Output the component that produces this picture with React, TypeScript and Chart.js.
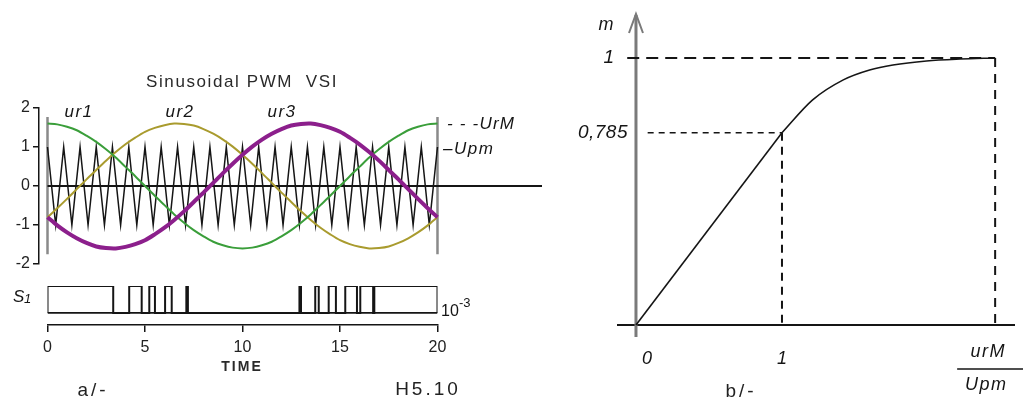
import React, { useEffect, useRef } from "react";
import { Chart, registerables } from "chart.js";
Chart.register(...registerables);

const W = 1023;
const H = 405;
const FONT = "'Liberation Sans', Arial, sans-serif";

// ---------- Panel a/- : reference sinusoids and carrier (time in ms) ----------
const TIME_MS = [0, 0.5, 1, 1.5, 2, 2.5, 3, 3.5, 4, 4.5, 5, 5.5, 6, 6.5, 7, 7.5, 8, 8.5, 9, 9.5, 10,
  10.5, 11, 11.5, 12, 12.5, 13, 13.5, 14, 14.5, 15, 15.5, 16, 16.5, 17, 17.5, 18, 18.5, 19, 19.5, 20];
const UR1 = [1.60, 1.58, 1.52, 1.43, 1.29, 1.13, 0.94, 0.73, 0.49, 0.25, 0, -0.25, -0.49, -0.73, -0.94, -1.13, -1.29, -1.43, -1.52, -1.58, -1.60,
  -1.58, -1.52, -1.43, -1.29, -1.13, -0.94, -0.73, -0.49, -0.25, 0, 0.25, 0.49, 0.73, 0.94, 1.13, 1.29, 1.43, 1.52, 1.58, 1.60];
const UR2 = [-0.80, -0.57, -0.33, -0.08, 0.17, 0.41, 0.65, 0.87, 1.07, 1.24, 1.39, 1.49, 1.56, 1.60, 1.59, 1.55, 1.46, 1.34, 1.19, 1.01, 0.80,
  0.57, 0.33, 0.08, -0.17, -0.41, -0.65, -0.87, -1.07, -1.24, -1.39, -1.49, -1.56, -1.60, -1.59, -1.55, -1.46, -1.34, -1.19, -1.01, -0.80];
const UR3 = [-0.80, -1.01, -1.19, -1.34, -1.46, -1.55, -1.59, -1.60, -1.56, -1.49, -1.39, -1.24, -1.07, -0.87, -0.65, -0.41, -0.17, 0.08, 0.33, 0.57, 0.80,
  1.01, 1.19, 1.34, 1.46, 1.55, 1.59, 1.60, 1.56, 1.49, 1.39, 1.24, 1.07, 0.87, 0.65, 0.41, 0.17, -0.08, -0.33, -0.57, -0.80];
const CARRIER_T = [0, 0.42, 0.83, 1.25, 1.67, 2.08, 2.5, 2.92, 3.33, 3.75, 4.17, 4.58, 5.0, 5.42, 5.83, 6.25, 6.67, 7.08,
  7.5, 7.92, 8.33, 8.75, 9.17, 9.58, 10.0, 10.42, 10.83, 11.25, 11.67, 12.08, 12.5, 12.92, 13.33, 13.75, 14.17, 14.58,
  15.0, 15.42, 15.83, 16.25, 16.67, 17.08, 17.5, 17.92, 18.33, 18.75, 19.17, 19.58, 20.0];
const CARRIER_V = [1, -1, 1, -1, 1, -1, 1, -1, 1, -1, 1, -1, 1, -1, 1, -1, 1, -1, 1, -1, 1, -1, 1, -1, 1,
  -1, 1, -1, 1, -1, 1, -1, 1, -1, 1, -1, 1, -1, 1, -1, 1, -1, 1, -1, 1, -1, 1, -1, 1];
const Y_TICKS_A = [-2, -1, 0, 1, 2];
const SINE_NAMES = ["ur1", "ur2", "ur3"];
const T_START = 0;
const T_END = 20;
const FRAME_TOP = 1.77;
const FRAME_BOTTOM = -1.75;

// ---------- Switching signal S1 ----------
const S1_T = [0, 0, 3.37, 4.19, 4.83, 5.22, 5.51, 6.03, 6.37, 7.12, 7.2, 12.92, 13.0, 13.73, 13.91, 14.42, 14.79,
  15.27, 15.87, 16.04, 16.7, 16.76, 20, 20];
const S1_V = [0, 1, 0, 1, 0, 1, 0, 1, 0, 1, 0, 1, 0, 1, 0, 1, 0, 1, 0, 1, 0, 1, 1, 0];
const TIME_TICKS = [0, 5, 10, 15, 20];

// ---------- Panel b/- : m versus urM/Upm ----------
const LIN_X = [0, 1];
const LIN_M = [0, 0.72];
const CURVE_X = [1, 1.21, 1.42, 1.6, 1.76, 1.99, 2.22, 2.46];
const CURVE_M = [0.72, 0.843, 0.918, 0.955, 0.974, 0.989, 0.996, 1.0];
const KNEE_X = 1;
const KNEE_M = 0.72;
const SAT_X = 2.46;
const SAT_M = 1;
const M_TICK_VALUES = [KNEE_M, SAT_M];
const M_TICK_LABELS = ["0,785", "1"];
const R_TICK_VALUES = [0, KNEE_X];
const R_TICK_LABELS = ["0", "1"];

const GREEN = "#3a9e3a";
const OLIVE = "#a99b2e";
const PURPLE = "#8c1f8c";
const INK = "#151515";

const pts = (xs: number[], ys: number[]) => xs.map((x, i) => ({ x, y: ys[i] }));

function text(ctx: CanvasRenderingContext2D, s: string, x: number, y: number, font: string, align: CanvasTextAlign = "center", spacing = "0px", color = INK) {
  ctx.save();
  ctx.font = font;
  (ctx as any).letterSpacing = spacing;
  ctx.fillStyle = color;
  ctx.textAlign = align;
  ctx.textBaseline = "middle";
  ctx.fillText(s, x, y);
  ctx.restore();
}

const baseOpts = {
  animation: false as const,
  responsive: false,
  devicePixelRatio: 1,
  events: [] as any[],
  plugins: { legend: { display: false }, tooltip: { enabled: false } },
  elements: { point: { radius: 0 } },
};

function makePanelA(canvas: HTMLCanvasElement) {
  const xMin = -0.436;
  const xMax = 25.36;
  return new Chart(canvas, {
    type: "line",
    data: {
      datasets: [
        { data: pts(TIME_MS, UR3), borderColor: PURPLE, borderWidth: 4, tension: 0.3 },
        { data: pts(TIME_MS, UR1), borderColor: GREEN, borderWidth: 2, tension: 0.3 },
        { data: pts(TIME_MS, UR2), borderColor: OLIVE, borderWidth: 2, tension: 0.3 },
        { data: pts(CARRIER_T, CARRIER_V), borderColor: INK, borderWidth: 1.5, tension: 0 },
        { data: [{ x: T_START, y: 0 }, { x: xMax, y: 0 }], borderColor: INK, borderWidth: 2 },
        { data: [{ x: T_START, y: FRAME_BOTTOM }, { x: T_START, y: FRAME_TOP }], borderColor: "#8a8a8a", borderWidth: 2.5 },
        { data: [{ x: T_END, y: FRAME_BOTTOM }, { x: T_END, y: FRAME_TOP }], borderColor: "#8a8a8a", borderWidth: 2.5 },
      ],
    },
    options: {
      ...baseOpts,
      layout: { padding: { left: 0, top: 108, right: W - 542, bottom: H - 264 } },
      scales: {
        x: { type: "linear", min: xMin, max: xMax, display: false },
        y: {
          type: "linear", min: -2, max: 2,
          afterFit: (s: any) => { s.width = 39; },
          afterBuildTicks: (s: any) => { s.ticks = Y_TICKS_A.map((v) => ({ value: v })); },
          ticks: { font: { family: FONT, size: 16 }, color: "#222", padding: 3 },
          grid: { drawOnChartArea: false, drawTicks: true, tickLength: 6, color: INK, lineWidth: 1.5 },
          border: { display: true, color: INK, width: 1.5 },
        },
      },
    } as any,
    plugins: [{
      id: "textA",
      afterDraw(chart: any) {
        const ctx = chart.ctx;
        text(ctx, "Sinusoidal PWM  VSI", 242, 82, `17px ${FONT}`, "center", "1.6px", "#2a2a2a");
        const xs = [79, 180, 282];
        SINE_NAMES.forEach((n, i) => text(ctx, n, xs[i], 112, `italic 17px ${FONT}`, "center", "1.5px"));
        text(ctx, "- - -UrM", 447, 124, `italic 17px ${FONT}`, "left", "1.2px");
        text(ctx, "\u2013Upm", 443, 149, `italic 17px ${FONT}`, "left", "1.5px");
      },
    }],
  });
}

function makePanelS1(canvas: HTMLCanvasElement) {
  return new Chart(canvas, {
    type: "line",
    data: {
      datasets: [
        { data: pts(S1_T, S1_V), borderColor: INK, borderWidth: 2, stepped: "before" },
        { data: [{ x: T_START, y: 0 }, { x: T_END, y: 0 }], borderColor: INK, borderWidth: 1.6 },
      ],
    },
    options: {
      ...baseOpts,
      layout: { padding: { left: 47.5, top: 286, right: W - 437.5, bottom: H - 325 - 40 } },
      scales: {
        x: {
          type: "linear", min: T_START, max: T_END,
          afterFit: (s: any) => { s.height = 40; },
          afterBuildTicks: (s: any) => { s.ticks = TIME_TICKS.map((v) => ({ value: v })); },
          ticks: { font: { family: FONT, size: 16 }, color: "#222", padding: 6, maxRotation: 0 },
          grid: { drawOnChartArea: false, drawTicks: true, tickLength: 7, color: INK, lineWidth: 1.5 },
          border: { display: true, color: INK, width: 1.5 },
        },
        y: { type: "linear", min: -0.45, max: 1, display: false },
      },
    } as any,
    plugins: [{
      id: "textS1",
      afterDraw(chart: any) {
        const ctx = chart.ctx;
        text(ctx, "S", 13, 297, `italic 17px ${FONT}`, "left");
        text(ctx, "1", 24, 299, `italic 13px ${FONT}`, "left");
        text(ctx, "10", 441, 312, `16px ${FONT}`, "left");
        text(ctx, "-3", 459, 303, `13px ${FONT}`, "left");
        text(ctx, "TIME", 242, 367, `bold 14px ${FONT}`, "center", "2px", "#2a2a2a");
        text(ctx, "a/-", 93, 391, `19px ${FONT}`, "center", "3px", "#222");
        text(ctx, "H5.10", 428, 390, `19px ${FONT}`, "center", "3px", "#222");
      },
    }],
  });
}

function makePanelB(canvas: HTMLCanvasElement) {
  const xMin = -0.13, xMax = 2.596, yMin = -0.045, yMax = 1.161;
  return new Chart(canvas, {
    type: "line",
    data: {
      datasets: [
        { data: pts(LIN_X, LIN_M), borderColor: INK, borderWidth: 1.6, tension: 0 },
        { data: pts(CURVE_X, CURVE_M), borderColor: INK, borderWidth: 1.6, cubicInterpolationMode: "monotone" },
        { data: [{ x: -0.06, y: SAT_M }, { x: SAT_X, y: SAT_M }], borderColor: INK, borderWidth: 2, borderDash: [12, 7] },
        { data: [{ x: SAT_X, y: SAT_M }, { x: SAT_X, y: 0 }], borderColor: INK, borderWidth: 2, borderDash: [9, 7] },
        { data: [{ x: 0.08, y: KNEE_M }, { x: KNEE_X, y: KNEE_M }], borderColor: INK, borderWidth: 1.6, borderDash: [6, 5] },
        { data: [{ x: KNEE_X, y: KNEE_M }, { x: KNEE_X, y: 0 }], borderColor: INK, borderWidth: 2, borderDash: [8, 6] },
      ],
    },
    options: {
      ...baseOpts,
      layout: { padding: { left: 617, top: 15, right: W - 1015, bottom: H - 337 } },
      scales: {
        x: { type: "linear", min: xMin, max: xMax, display: false },
        y: { type: "linear", min: yMin, max: yMax, display: false },
      },
    } as any,
    plugins: [{
      id: "axesB",
      beforeDatasetsDraw(chart: any) {
        const ctx = chart.ctx;
        const a = chart.chartArea;
        const x0 = chart.scales.x.getPixelForValue(0);
        const y0 = chart.scales.y.getPixelForValue(0);
        ctx.save();
        ctx.strokeStyle = INK;
        ctx.lineWidth = 2;
        ctx.beginPath();
        ctx.moveTo(a.left, y0);
        ctx.lineTo(a.right, y0);
        ctx.stroke();
        ctx.strokeStyle = "#7a7a7a";
        ctx.lineWidth = 3;
        ctx.beginPath();
        ctx.moveTo(x0, a.top);
        ctx.lineTo(x0, a.bottom);
        ctx.stroke();
        ctx.lineWidth = 2;
        ctx.beginPath();
        ctx.moveTo(x0 - 7, a.top + 18);
        ctx.lineTo(x0, a.top - 1);
        ctx.lineTo(x0 + 7, a.top + 18);
        ctx.stroke();
        ctx.restore();
      },
      afterDraw(chart: any) {
        const ctx = chart.ctx;
        const xs = chart.scales.x;
        const ys = chart.scales.y;
        const f = `italic 18px ${FONT}`;
        text(ctx, "m", 606, 25, f);
        const mRight = [628, 614];
        M_TICK_VALUES.forEach((v, i) => text(ctx, M_TICK_LABELS[i], mRight[i], ys.getPixelForValue(v), `italic 19px ${FONT}`, "right", i === 0 ? "0.5px" : "0px"));
        const rDx = [11, 0];
        R_TICK_VALUES.forEach((v, i) => text(ctx, R_TICK_LABELS[i], xs.getPixelForValue(v) + rDx[i], 359, f));
        const sx = xs.getPixelForValue(SAT_X);
        text(ctx, "urM", sx - 7, 352, f, "center", "1.5px");
        text(ctx, "Upm", sx - 9, 385, f, "center", "1.5px");
        ctx.save();
        ctx.strokeStyle = INK;
        ctx.lineWidth = 1.5;
        ctx.beginPath();
        ctx.moveTo(sx - 38, 369);
        ctx.lineTo(W, 369);
        ctx.stroke();
        ctx.restore();
        text(ctx, "b/-", 741, 392, `19px ${FONT}`, "center", "3px", "#222");
      },
    }],
  });
}

export default function App() {
  const aRef = useRef<HTMLCanvasElement>(null);
  const sRef = useRef<HTMLCanvasElement>(null);
  const bRef = useRef<HTMLCanvasElement>(null);
  useEffect(() => {
    const charts = [makePanelA(aRef.current!), makePanelS1(sRef.current!), makePanelB(bRef.current!)];
    return () => charts.forEach((c) => c.destroy());
  }, []);
  const cs: React.CSSProperties = { position: "absolute", left: 0, top: 0, width: W, height: H };
  return (
    <div style={{ position: "fixed", left: 0, top: 0, width: W, height: H, background: "#fff", overflow: "hidden" }}>
      <canvas ref={aRef} width={W} height={H} style={cs} />
      <canvas ref={sRef} width={W} height={H} style={cs} />
      <canvas ref={bRef} width={W} height={H} style={cs} />
    </div>
  );
}
